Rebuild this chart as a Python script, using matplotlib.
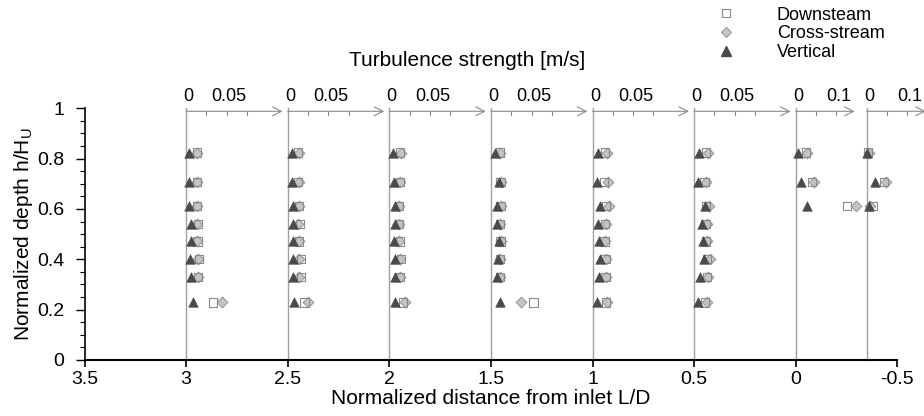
import matplotlib
matplotlib.use("Agg")
import matplotlib.pyplot as plt
from matplotlib.lines import Line2D
import numpy as np

plt.rcParams['font.family'] = ['Liberation Sans', 'DejaVu Sans']
plt.rcParams['mathtext.fontset'] = 'custom'
plt.rcParams['mathtext.rm'] = 'Liberation Sans'
plt.rcParams['mathtext.it'] = 'Liberation Sans'
plt.rcParams['axes.unicode_minus'] = False

# ---------------- data ----------------
stations = [3.0, 2.5, 2.0, 1.5, 1.0, 0.5, 0.0, -0.35]
ref_value = [0.05, 0.05, 0.05, 0.05, 0.05, 0.05, 0.1, 0.1]
ref_label = ["0.05", "0.05", "0.05", "0.05", "0.05", "0.05", "0.1", "0.1"]
arrow_ticks = [[0.025, 0.05, 0.075]] * 6 + [[0.05, 0.1]] * 2

depth = [0.824, 0.706, 0.612, 0.541, 0.471, 0.400, 0.329, 0.229]

downstream = [
    [0.0136, 0.0136, 0.0136, 0.0145, 0.0140, 0.0155, 0.0148, 0.0328],
    [0.0130, 0.0130, 0.0140, 0.0152, 0.0140, 0.0160, 0.0160, 0.0205],
    [0.0130, 0.0130, 0.0120, 0.0120, 0.0132, 0.0140, 0.0130, 0.0172],
    [0.0110, 0.0120, 0.0120, 0.0110, 0.0120, 0.0110, 0.0115, 0.0525],
    [0.0156, 0.0144, 0.0164, 0.0150, 0.0148, 0.0160, 0.0160, 0.0164],
    [0.0148, 0.0127, 0.0148, 0.0140, 0.0145, 0.0160, 0.0160, 0.0132],
    [0.0246, 0.0409, 0.1270],
    [0.0025, 0.0420, 0.0148],
]
cross_stream = [
    [0.0136, 0.0136, 0.0136, 0.0136, 0.0136, 0.0148, 0.0148, 0.0444],
    [0.0139, 0.0139, 0.0144, 0.0130, 0.0139, 0.0139, 0.0139, 0.0254],
    [0.0139, 0.0132, 0.0123, 0.0123, 0.0123, 0.0132, 0.0132, 0.0193],
    [0.0115, 0.0123, 0.0123, 0.0115, 0.0123, 0.0115, 0.0107, 0.0370],
    [0.0181, 0.0193, 0.0201, 0.0172, 0.0152, 0.0164, 0.0172, 0.0181],
    [0.0176, 0.0148, 0.0189, 0.0156, 0.0156, 0.0197, 0.0176, 0.0164],
    [0.0288, 0.0450, 0.1480],
    [0.0050, 0.0460, 0.0084],
]
vertical = [
    [0.0041, 0.0041, 0.0041, 0.0057, 0.0057, 0.0049, 0.0062, 0.0081],
    [0.0049, 0.0049, 0.0062, 0.0070, 0.0070, 0.0070, 0.0062, 0.0081],
    [0.0049, 0.0058, 0.0070, 0.0070, 0.0062, 0.0070, 0.0070, 0.0070],
    [0.0045, 0.0095, 0.0074, 0.0074, 0.0095, 0.0082, 0.0074, 0.0115],
    [0.0062, 0.0058, 0.0090, 0.0070, 0.0082, 0.0090, 0.0078, 0.0058],
    [0.0058, 0.0049, 0.0135, 0.0099, 0.0107, 0.0127, 0.0078, 0.0049],
    [0.0057, 0.0123, 0.0286],
    [0.0005, 0.0190, 0.0050],
]

x_ticks = [3.5, 3, 2.5, 2, 1.5, 1, 0.5, 0, -0.5]
x_tick_labels = ["3.5", "3", "2.5", "2", "1.5", "1", "0.5", "0", "-0.5"]
y_ticks = [0, 0.2, 0.4, 0.6, 0.8, 1.0]
y_tick_labels = ["0", "0.2", "0.4", "0.6", "0.8", "1"]

# ---------------- styling ----------------
W, H = 924, 416
fig = plt.figure(figsize=(W / 100, H / 100), dpi=100)
ax = fig.add_axes([84.5 / W, 56 / H, (897.3 - 84.5) / W, (360 - 108.3) / H])
ax.set_xlim(3.5, -0.5)
ax.set_ylim(0, 1)

line_col = '#a0a0a0'
arrow_col = '#8c8c8c'
sq_edge = '#8a8a8a'
dia_face = '#c4c4c4'
dia_edge = '#9a9a9a'
tri_col = '#4a4a4a'
fs = 13
fs_tick = 14
fs_lab = 15

arrow_y = 0.988
label_y = 1.045

for i, st in enumerate(stations):
    k = 0.2 / ref_value[i]           # data units per m/s
    ax.plot([st, st], [0, 1.0], color=line_col, lw=1.0, zorder=1, clip_on=False)
    alen = 0.475 if ref_value[i] == 0.05 else 0.29
    ax.annotate('', xy=(st - alen, arrow_y), xytext=(st, arrow_y),
                arrowprops=dict(arrowstyle='->', color=arrow_col, lw=0.8,
                                mutation_scale=16, shrinkA=0, shrinkB=0),
                annotation_clip=False)
    for t in arrow_ticks[i]:
        xt = st - k * t
        ax.plot([xt, xt], [arrow_y, arrow_y - 0.013], color=arrow_col, lw=0.8,
                clip_on=False, zorder=1)
    ax.text(st - 0.012, label_y, "0", ha='center', va='center', fontsize=fs,
            clip_on=False)
    ax.text(st - k * ref_value[i] - 0.012, label_y, ref_label[i], ha='center',
            va='center', fontsize=fs, clip_on=False)

    n = len(downstream[i])
    d = np.array(depth[:n])
    xd = st - k * np.array(downstream[i])
    xc = st - k * np.array(cross_stream[i])
    xv = st - k * np.array(vertical[i])
    ax.scatter(xc, d, marker='D', s=5.4 ** 2, facecolor=dia_face,
               edgecolor=dia_edge, linewidth=0.8, zorder=3, clip_on=False)
    ax.scatter(xd, d, marker='s', s=6.0 ** 2, facecolor='none',
               edgecolor=sq_edge, linewidth=0.8, zorder=4, clip_on=False)
    ax.scatter(xv, d, marker='^', s=6.8 ** 2, facecolor=tri_col,
               edgecolor=tri_col, linewidth=0.5, zorder=5, clip_on=False)

# axes
ax.spines['top'].set_visible(False)
ax.spines['right'].set_visible(False)
ax.spines['bottom'].set_linewidth(1.5)
ax.spines['left'].set_linewidth(1.2)
ax.set_xticks(x_ticks)
ax.set_xticklabels(x_tick_labels, fontsize=fs_tick)
ax.set_yticks(y_ticks)
ax.set_yticklabels(y_tick_labels, fontsize=fs_tick)
ax.set_yticks(np.arange(0, 1.0001, 0.05), minor=True)
ax.tick_params(axis='x', which='major', direction='out', length=5, width=1.2, pad=3)
ax.tick_params(axis='y', which='major', direction='out', length=6.5, width=1.0, pad=8)
ax.tick_params(axis='y', which='minor', direction='out', length=3.5, width=0.8)

ax.set_xlabel("Normalized distance from inlet L/D", fontsize=fs_lab, labelpad=1)
ax.set_ylabel("Normalized depth h/H$_\\mathrm{U}$", fontsize=fs_lab)
ax.yaxis.set_label_coords(-0.061, 0.5)

fig.text(467.5 / W, 1 - 60 / H, "Turbulence strength [m/s]", ha='center',
         va='center', fontsize=fs_lab)

# legend
handles = [
    Line2D([], [], ls='none', marker='s', markersize=6.0, markerfacecolor='white',
           markeredgecolor=sq_edge, markeredgewidth=0.8),
    Line2D([], [], ls='none', marker='D', markersize=5.4, markerfacecolor=dia_face,
           markeredgecolor=dia_edge, markeredgewidth=0.8),
    Line2D([], [], ls='none', marker='^', markersize=6.8, markerfacecolor=tri_col,
           markeredgecolor=tri_col),
]
fig.legend(handles, ["Downsteam", "Cross-stream", "Vertical"],
           loc='upper left', bbox_to_anchor=(712 / W, 1 - 3 / H), frameon=False,
           fontsize=13, handlelength=1.2, handletextpad=2.2, labelspacing=0.1,
           borderpad=0.2, borderaxespad=0)

fig.savefig("out.png", dpi=100)
